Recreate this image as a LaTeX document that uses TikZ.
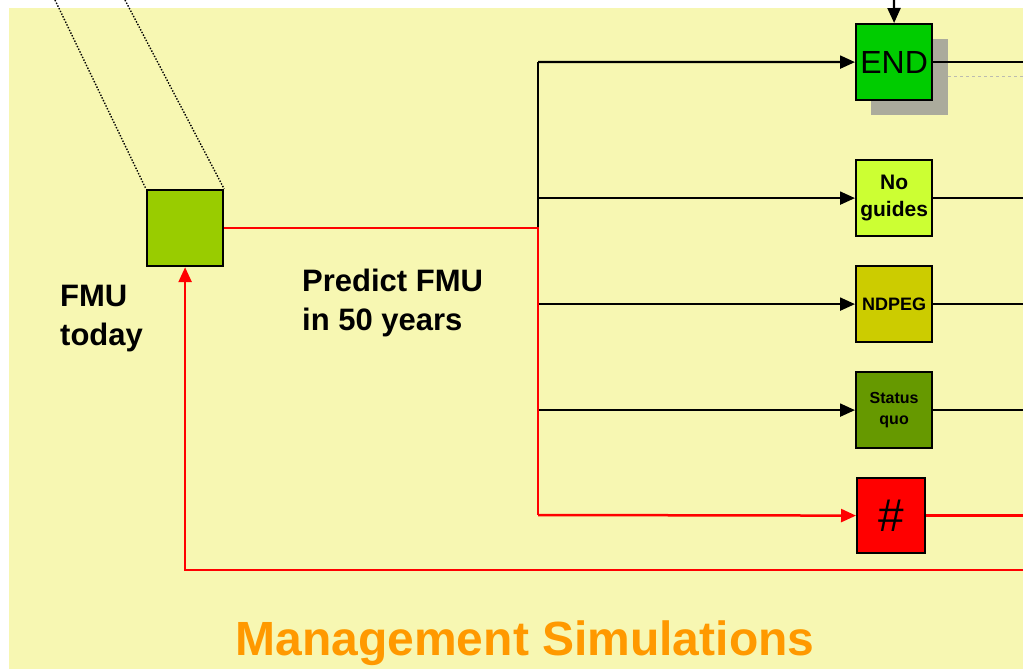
\documentclass[tikz,border=0pt]{standalone}
\usepackage{fontspec}
\setmainfont{Liberation Sans}
\usetikzlibrary{arrows.meta}
\definecolor{bgyellow}{HTML}{F7F7B2}
\definecolor{fmugreen}{HTML}{99CC00}
\definecolor{endgreen}{HTML}{00CC00}
\definecolor{noguides}{HTML}{CCFF33}
\definecolor{ndpeg}{HTML}{CCCC00}
\definecolor{statusq}{HTML}{669900}
\definecolor{titleorange}{HTML}{FF9900}
\definecolor{shadowgray}{HTML}{ABAB9C}
\tikzset{
  box/.style={draw=black, line width=2.2pt, minimum width=76pt, minimum height=76pt, inner sep=0pt, align=center, anchor=north west},
  conn/.style={draw=black, line width=2.2pt},
  rconn/.style={draw=red, line width=2.5pt},
  arrowtip/.style={-{Triangle[length=15pt,width=13pt]}},
  lbl/.style={font=\bfseries\fontsize{31}{39}\selectfont, align=left, anchor=base west, inner sep=0pt}
}
\begin{document}
\begin{tikzpicture}[x=1pt,y=-1pt]
\useasboundingbox (0,0) rectangle (1023,669);
\fill[white] (0,0) rectangle (1023,669);
\fill[bgyellow] (9,8) rectangle (1023,669);
% shadow of END box
\fill[shadowgray] (871,39) rectangle (948,115);
\draw[shadowgray!80, line width=1pt, dashed] (948,77) -- (1023,77);
% boxes
\node[box, fill=fmugreen] (fmu) at (146,189) {};
\node[box, fill=endgreen, font=\fontsize{32}{34}\selectfont] (end) at (855,23) {END};
\node[box, fill=noguides, font=\bfseries\fontsize{21}{27}\selectfont] (nog) at (855,159) {No\\guides};
\node[box, fill=ndpeg, font=\bfseries\fontsize{18}{20}\selectfont] (ndp) at (855,265) {NDPEG};
\node[box, fill=statusq, font=\bfseries\fontsize{16}{21}\selectfont] (sq) at (855,371) {Status\\quo};
\node[box, fill=red, minimum width=68pt, minimum height=75pt, font=\fontsize{46}{48}\selectfont] (hash) at (856,477) {\#};
% coordinates
\coordinate (top) at (894,0);
\coordinate (bj) at (538,62);
\coordinate (rj) at (538,227);
\coordinate (rb) at (538,515);
\coordinate (rx) at (1023,0);
\coordinate (e6) at (1023,570);
\coordinate (d1) at (55,0);
\coordinate (d2) at (125,0);
% dotted lines
\draw[line width=1.4pt, dash pattern=on 1.4pt off 1.6pt] (d1) -- (fmu.north west);
\draw[line width=1.4pt, dash pattern=on 1.4pt off 1.6pt] (d2) -- (fmu.north east);
% black branches
\draw[conn, arrowtip] (top) -- (end.north);
\draw[conn] (sq.west -| bj) -- (bj);
\draw[conn, arrowtip] (bj) -- (end.west);
\draw[conn, arrowtip] (nog.west -| bj) -- (nog.west);
\draw[conn, arrowtip] (ndp.west -| bj) -- (ndp.west);
\draw[conn, arrowtip] (sq.west -| bj) -- (sq.west);
\draw[conn] (end.east) -- (end.east -| rx);
\draw[conn] (nog.east) -- (nog.east -| rx);
\draw[conn] (ndp.east) -- (ndp.east -| rx);
\draw[conn] (sq.east) -- (sq.east -| rx);
% red path
\draw[rconn] (fmu.east) -- (fmu.east -| rj) -- (rb);
\draw[rconn, arrowtip, red] (rb) -- (hash.west);
\draw[rconn] (hash.east) -- (hash.east -| rx);
\draw[rconn, arrowtip, red] (e6) -| (fmu.south);
% labels
\node[lbl] (fmutxt) at (60,345) {FMU\\today};
\node[lbl] (pred) at (302,330) {Predict FMU\\in 50 years};
\node[font=\bfseries\fontsize{48}{50}\selectfont, text=titleorange, inner sep=0pt, anchor=base] (title) at (525,655) {Management Simulations};
\end{tikzpicture}
\end{document}
